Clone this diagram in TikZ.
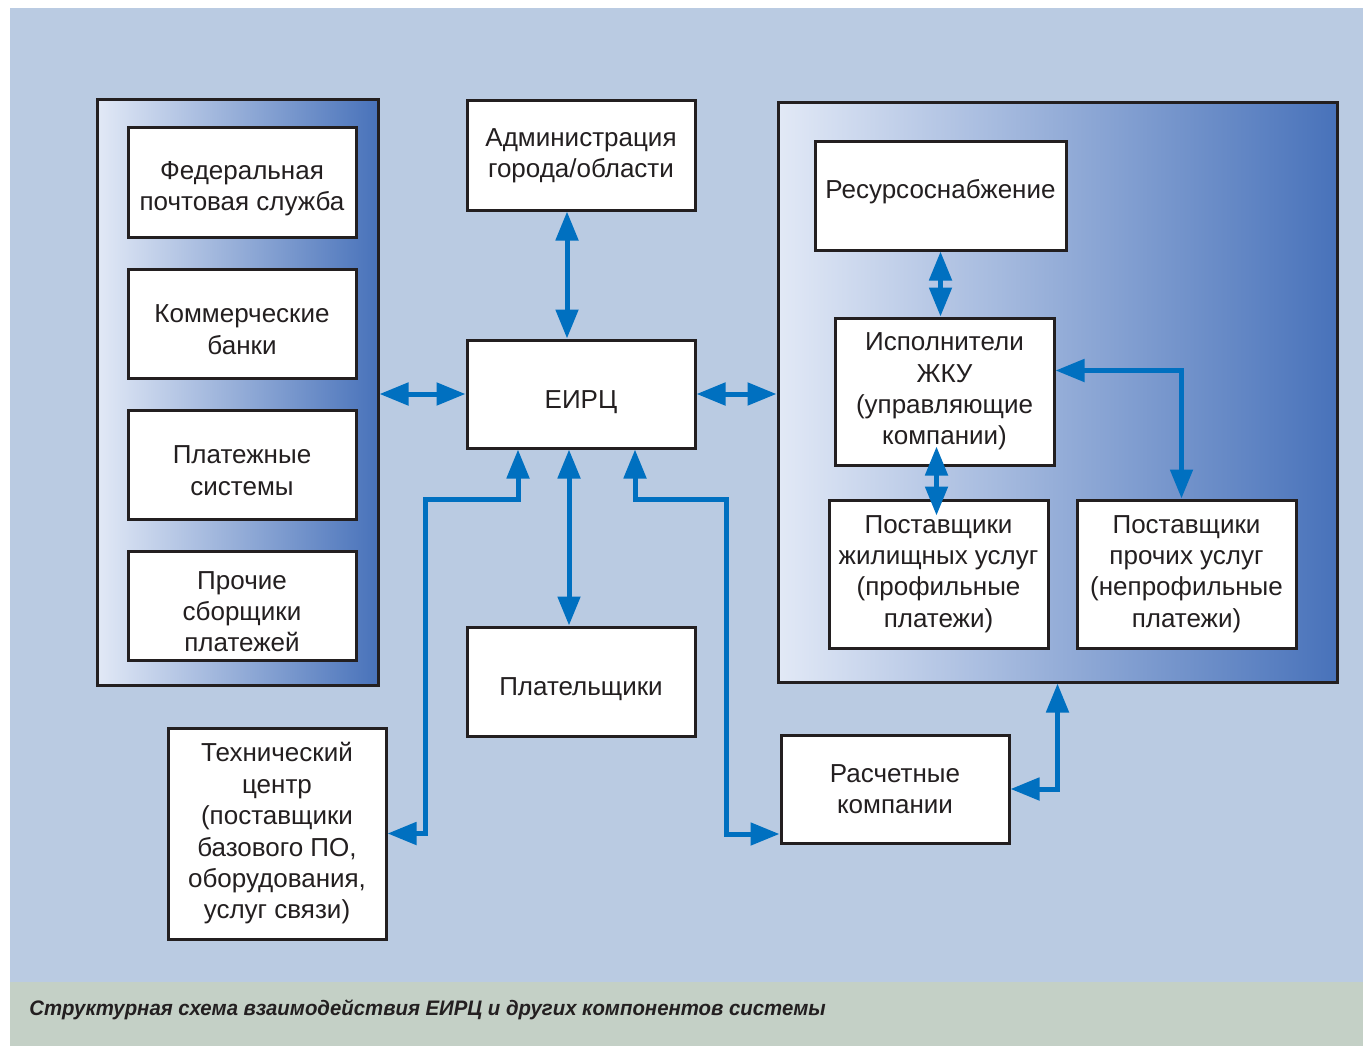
\documentclass[tikz,border=0pt]{standalone}
\usepackage{fontspec}
\setmainfont{Liberation Sans}
\usetikzlibrary{arrows.meta, positioning, calc}
\definecolor{bgblue}{HTML}{BACBE2}
\definecolor{capgrey}{HTML}{C4D0C6}
\definecolor{linkblue}{HTML}{0070C0}
\definecolor{inkblack}{HTML}{231F20}
\definecolor{shadelight}{HTML}{E2E9F6}
\definecolor{shadedark}{HTML}{4872BA}

\begin{document}
\begin{tikzpicture}[x=1pt, y=-1pt, node distance=29pt]
  \tikzstyle{unit} = [rectangle, draw=inkblack, line width=3pt, fill=white, minimum width=228pt, minimum height=109pt, align=center, text=inkblack, inner sep=3pt, font=\fontsize{26}{31.4}\selectfont]
  \tikzstyle{lowunit} = [unit, text height=62pt]
  \tikzstyle{group} = [rectangle, draw=inkblack, line width=3pt, left color=shadelight, right color=shadedark]
  \tikzstyle{link} = [draw=linkblue, line width=5pt, {Triangle[length=29pt, width=22pt]}-{Triangle[length=29pt, width=22pt]}]

  % background and caption strip
  \useasboundingbox (0,0) rectangle (1363,1046);
  \fill[bgblue] (10,8) rectangle (1363,982);
  \fill[capgrey] (10,982) rectangle (1363,1046);
  \node[anchor=west, text=inkblack, font=\fontsize{21}{25}\selectfont\bfseries\itshape, xscale=0.97] (caption) at (26,1010) {Структурная схема взаимодействия ЕИРЦ и других компонентов системы};

  % groups
  \node[group, minimum width=281pt, minimum height=585pt] (lgroup) at (237.5,392.5) {};
  \node[group, minimum width=559pt, minimum height=579pt] (rgroup) at (1057.5,392.5) {};

  % left column
  \node[lowunit] (post) at (242,182.5) {Федеральная\\почтовая служба};
  \node[lowunit, below=of post] (banks) {Коммерческие\\банки};
  \node[lowunit, below=of banks] (paysys) {Платежные\\системы};
  \node[lowunit, below=of paysys, text height=93pt] (collect) {Прочие\\сборщики\\платежей};

  % middle column
  \node[unit] (admin) at (581,155.5) {Администрация\\города/области};
  \node[unit, minimum height=108pt, text height=34pt] (eirc) at (581,394) {ЕИРЦ};
  \node[unit, text height=34pt] (payers) at (581,681.5) {Плательщики};
  \node[unit, minimum width=218pt, minimum height=211pt] (tech) at (277,833.5) {Технический\\центр\\(поставщики\\базового ПО,\\оборудования,\\услуг связи)};

  % right group
  \node[unit, minimum width=251pt, minimum height=108pt, text depth=14pt] (supply) at (940.5,196) {Ресурсоснабжение};
  \node[unit, minimum width=219pt, minimum height=147pt] (hcs) at (944.5,391.5) {Исполнители\\ЖКУ\\(управляющие\\компании)};
  \node[unit, minimum width=219pt, minimum height=148pt] (housing) at (938.5,574) {Поставщики\\жилищных услуг\\(профильные\\платежи)};
  \node[unit, minimum width=219pt, minimum height=148pt, right=26pt of housing] (others) {Поставщики\\прочих услуг\\(непрофильные\\платежи)};
  \node[unit, minimum height=108pt] (billing) at (895,789) {Расчетные\\компании};

  % links
  \draw[link] ($(admin.south)+(-14,0)$) -- ($(eirc.north)+(-14,0)$);
  \draw[link] (lgroup.east |- eirc.west) -- (eirc.west);
  \draw[link] (eirc.east) -- (rgroup.west |- eirc.east);
  \draw[link] ($(eirc.south)+(-12,0)$) -- ($(payers.north)+(-12,0)$);
  \draw[link] ($(eirc.south)+(-63,0)$) -- ++(0,50) -| ($(tech.east)+(38,0)$) -- (tech.east);
  \draw[link] ($(eirc.south)+(54,0)$) -- ++(0,50) -| ($(billing.west)+(-53,45)$) -- ($(billing.west)+(0,45)$);
  \draw[link] (supply.south) -- (supply.south |- hcs.north);
  \draw[link] ($(hcs.south)+(-8,-20)$) -- ($(housing.north)+(-2,17)$);
  \draw[link] ($(hcs.east)+(0,-21)$) -| ($(others.north)+(-5,0)$);
  \draw[link] (billing.east) -| (rgroup.south);
\end{tikzpicture}
\end{document}
